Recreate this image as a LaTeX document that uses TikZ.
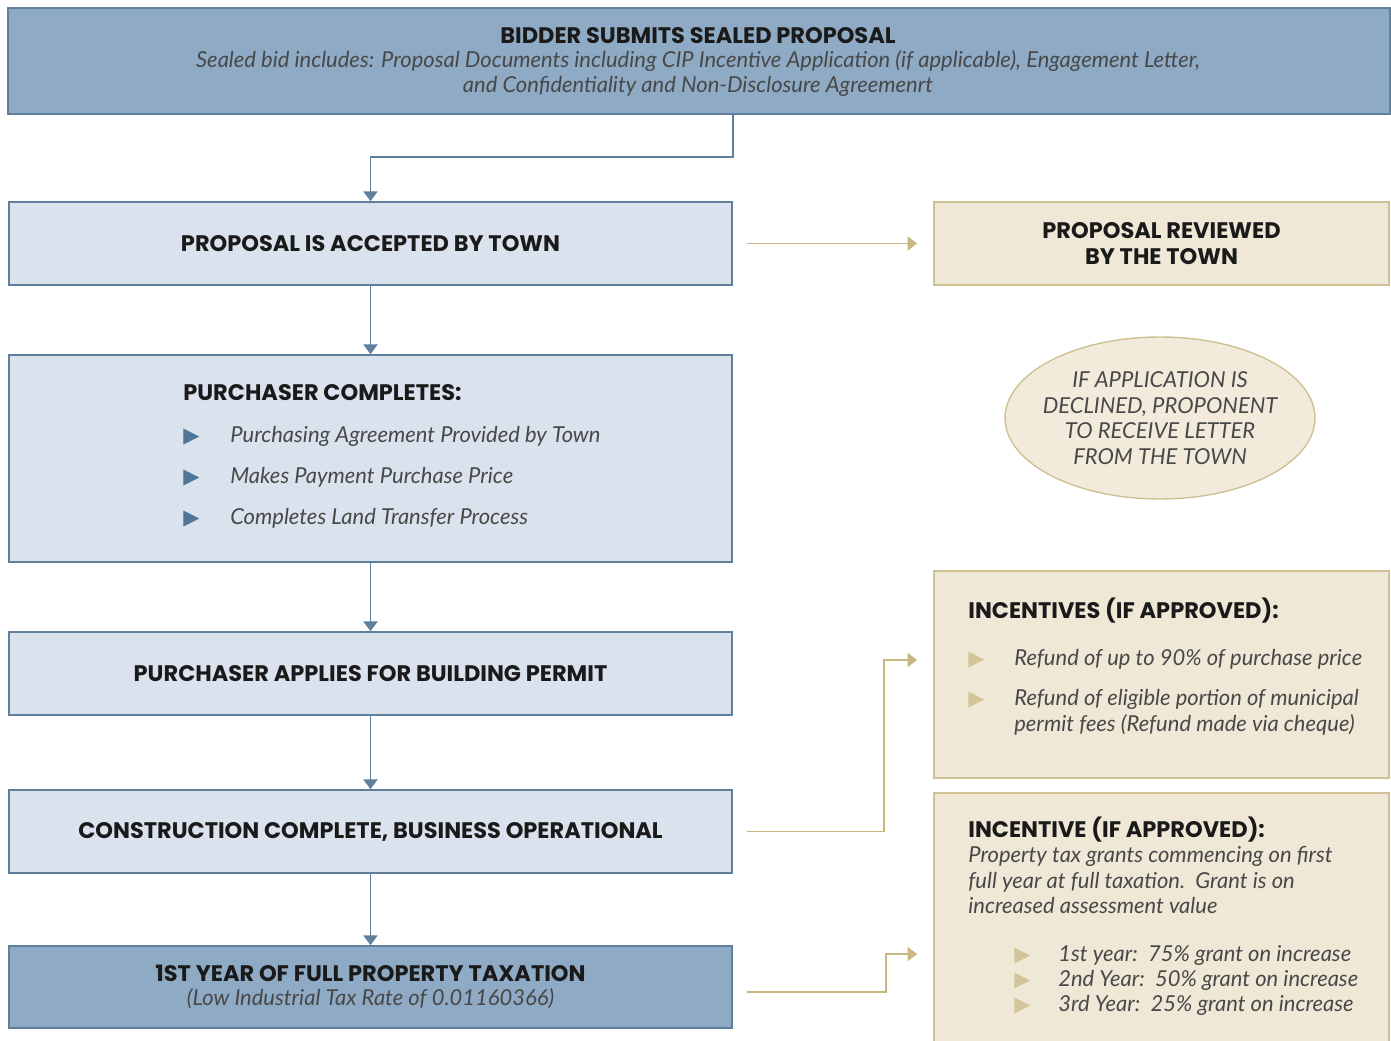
\documentclass[tikz,border=0pt]{standalone}
\usepackage{fontspec}
\setmainfont{Lato}
\newfontfamily\headfont{Poppins}
\newfontfamily\symfont{DejaVu Sans}
\usetikzlibrary{arrows.meta,shapes.geometric,positioning}
\definecolor{deepblue}{HTML}{8FAAC4}
\definecolor{paleblue}{HTML}{D9E2ED}
\definecolor{blueline}{HTML}{5F7F9D}
\definecolor{bulblue}{HTML}{4F7598}
\definecolor{paletan}{HTML}{F0E8D6}
\definecolor{tanline}{HTML}{CFC194}
\definecolor{goldline}{HTML}{C8B880}
\definecolor{bulgold}{HTML}{D3C49A}
\definecolor{headtxt}{HTML}{1A1A1A}
\definecolor{bodytxt}{HTML}{484848}
\newcommand{\hd}{\normalfont\headfont\fontsize{12.8}{14.5}\selectfont\bfseries\color{headtxt}}
\newcommand{\bd}{\normalfont\fontsize{12.5}{14.6}\selectfont\itshape\color{bodytxt}}
\newcommand{\blt}[2]{\makebox[#2][l]{{\symfont\fontsize{12}{12}\selectfont\color{#1}▶}}}
\tikzstyle{stepbox} = [draw=blueline, fill=paleblue, line width=1pt, inner sep=0pt, minimum width=14.46cm, minimum height=1.66cm, align=center, font=\hd]
\tikzstyle{sidebox} = [draw=tanline, fill=paletan, line width=1pt, inner sep=0pt, minimum width=9.1cm, minimum height=1.66cm, align=center, font=\hd]
\tikzstyle{bluearrow} = [draw=blueline, line width=1pt, -{Triangle[width=8pt,length=5.5pt]}]
\tikzstyle{goldarrow} = [draw=goldline, line width=1pt, -{Triangle[width=8pt,length=5.5pt]}]
\tikzstyle{txt} = [inner sep=0pt, anchor=west]

\begin{document}
\begin{tikzpicture}[x=0.02cm, y=-0.02cm]
\useasboundingbox[fill=white] (0,0) rectangle (1391,1040);
% left column
\node[stepbox, fill=deepblue, minimum width=27.64cm, minimum height=2.12cm] (bid) at (699,61) {};
\node[inner sep=0pt, align=center, font=\bd] (bidtxt) at (698,62) {{\hd BIDDER SUBMITS SEALED PROPOSAL}\\[-1pt]
  Sealed bid includes: Proposal Documents including CIP Incentive Application (if applicable), Engagement Letter,\\
  and Confidentiality and Non-Disclosure Agreemenrt};
\node[stepbox] (accept) at (370.5,243.5) {PROPOSAL IS ACCEPTED BY TOWN};
\node[stepbox, minimum height=4.14cm] (complete) at (370.5,458.5) {};
\node[txt] (comphd) at (183,393) {\hd PURCHASER COMPLETES:};
\node[txt] (comp1) at (183,436) {\blt{bulblue}{0.94cm}{\bd Purchasing Agreement Provided by Town}};
\node[txt] (comp2) at (183,477) {\blt{bulblue}{0.94cm}{\bd Makes Payment Purchase Price}};
\node[txt] (comp3) at (183,518) {\blt{bulblue}{0.94cm}{\bd Completes Land Transfer Process}};
\node[stepbox] (permit) at (370.5,673.5) {PURCHASER APPLIES FOR BUILDING PERMIT};
\node[stepbox] (build) at (370.5,831.5) {CONSTRUCTION COMPLETE, BUSINESS OPERATIONAL};
\node[stepbox, fill=deepblue, minimum height=1.64cm] (tax) at (370.5,987) {1ST YEAR OF FULL PROPERTY TAXATION\\[-1pt]
  {\bd (Low Industrial Tax Rate of 0.01160366)}};
% right column
\node[sidebox] (review) at (1161.5,243.5) {PROPOSAL REVIEWED\\BY THE TOWN};
\node[ellipse, draw=tanline, fill=paletan!85!white, line width=0.8pt, minimum width=6.2cm, minimum height=3.24cm, inner xsep=-0.25cm, inner ysep=0pt, align=center, font=\bd] (decline) at (1160,418)
  {IF APPLICATION IS\\DECLINED, PROPONENT\\TO RECEIVE LETTER\\FROM THE TOWN};
\node[sidebox, minimum height=4.14cm] (refund) at (1161.5,674.5) {};
\node[txt] (refhd) at (968,611) {\hd INCENTIVES (IF APPROVED):};
\node[txt] (ref1) at (968,659) {\blt{bulgold}{0.92cm}{\bd Refund of up to 90\% of purchase price}};
\node[txt, anchor=north west] (ref2) at (968,689) {\blt{bulgold}{0.92cm}{\bd\parbox[t]{8cm}{Refund of eligible portion of municipal\\ permit fees (Refund made via cheque)}}};
\node[sidebox, minimum height=5.06cm] (grant) at (1161.5,919.5) {};
\node[txt] (granthd) at (968,830) {\hd INCENTIVE (IF APPROVED):};
\node[txt, anchor=north west, align=left, font=\bd] (grantbd) at (968,846) {Property tax grants commencing on first\\
  full year at full taxation.\ \ Grant is on\\increased assessment value};
\foreach \yr/\pc [count=\i] in {1st year/75, 2nd Year/50, 3rd Year/25}
  \node[txt] (yr\i) at (1014,930+25*\i) {\blt{bulgold}{0.88cm}{\bd \yr:\ \ \pc\% grant on increase}};
% connectors
\coordinate (k1) at (733,157);
\coordinate (k2) at (884,660);
\coordinate (k3) at (886,954);
\draw[bluearrow] (bid.south -| k1) -- (k1) -| (accept.north);
\draw[bluearrow] (accept) -- (complete);
\draw[bluearrow] (complete) -- (permit);
\draw[bluearrow] (permit) -- (build);
\draw[bluearrow] (build) -- (tax);
\draw[goldarrow, shorten <=0.28cm, shorten >=0.32cm] (accept.east) -- (review.west);
\draw[goldarrow, shorten <=0.28cm] (build.east) -| (k2) -- ([xshift=-0.32cm]refund.west |- k2);
\draw[goldarrow, shorten <=0.28cm] ([yshift=-0.1cm]tax.east) -| (k3) -- ([xshift=-0.32cm]grant.west |- k3);
\end{tikzpicture}
\end{document}
